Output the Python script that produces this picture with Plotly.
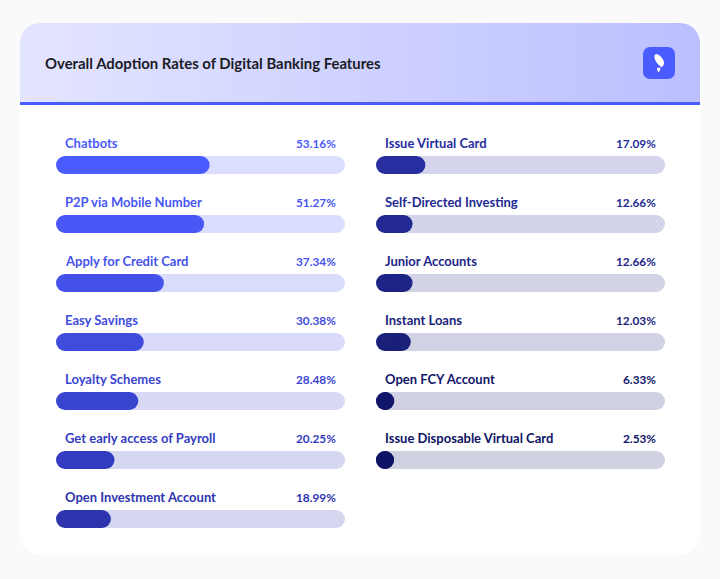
import base64
import numpy as np
import plotly.graph_objects as go

TITLE = "Overall Adoption Rates of Digital Banking Features"

left_features = ["Chatbots", "P2P via Mobile Number", "Apply for Credit Card", "Easy Savings",
                 "Loyalty Schemes", "Get early access of Payroll", "Open Investment Account"]
left_values = [53.16, 51.27, 37.34, 30.38, 28.48, 20.25, 18.99]
left_colors = ["#4A5CFF", "#4857F6", "#4552EA", "#3F4CDC", "#3A45CF", "#333CC0", "#2C34AE"]

right_features = ["Issue Virtual Card", "Self-Directed Investing", "Junior Accounts", "Instant Loans",
                  "Open FCY Account", "Issue Disposable Virtual Card"]
right_values = [17.09, 12.66, 12.66, 12.03, 6.33, 2.53]
right_colors = ["#262EA0", "#222992", "#1E2486", "#1A1F7A", "#11166A", "#0E1366"]

FONT = "Lato"
W, H = 720, 579
BAR_PX = 18
PANEL_PX = 289
CAP = (BAR_PX / 2) / PANEL_PX * 100  # round end radius, in axis units
FULL = 100


def tint(hex_color, alpha=0.2):
    h = hex_color.lstrip("#")
    rgb = [int(h[i:i + 2], 16) for i in (0, 2, 4)]
    return "rgb(" + ",".join(str(round(255 - alpha * (255 - c))) for c in rgb) + ")"


svg = f'''<svg xmlns="http://www.w3.org/2000/svg" width="{W}" height="{H}" viewBox="0 0 {W} {H}">
<defs><linearGradient id="g" x1="0" x2="1" y1="0" y2="0">
<stop offset="0" stop-color="#E3E5FF"/><stop offset="1" stop-color="#BBBFFF"/></linearGradient></defs>
<rect width="{W}" height="{H}" fill="#FAFAFA"/>
<rect x="20" y="23" width="680" height="532" rx="20" fill="#FFFFFF"/>
<path d="M20 103 V43 A20 20 0 0 1 40 23 H680 A20 20 0 0 1 700 43 V103 Z" fill="url(#g)"/>
<rect x="20" y="102" width="680" height="3" fill="#4A5CFF"/>
<rect x="643" y="47" width="32" height="32" rx="7" fill="#4A5CFF"/>
<path d="M656.5 54 C660 55 664 59 664 63 C664 65 663 66.5 661.5 67 C658 65 654 60 654.5 56 C654.6 55 655.5 54 656.5 54 Z" fill="#FFFFFF"/>
<path d="M657 68 L660.5 67.5 C660.3 69.5 659.5 71.5 658.5 72.5 C657.5 71.5 657 69.5 657 68 Z" fill="#FFFFFF"/>
</svg>'''
bg = "data:image/svg+xml;base64," + base64.b64encode(svg.encode()).decode()

fig = go.Figure()
annotations = []


def add_panel(features, values, colors, xa, ya):
    n = len(features)
    ends = np.maximum(values, 2 * CAP)
    tints = [tint(c) for c in colors]
    # track: straight part and its right end (its left end is hidden by the fill)
    fig.add_trace(go.Bar(orientation="h", y=features, x=[FULL - 2 * CAP] * n, base=CAP, xaxis=xa, yaxis=ya,
                         marker=dict(color=tints, line_width=0), hoverinfo="skip", showlegend=False))
    fig.add_trace(go.Scatter(y=features, x=[FULL - CAP] * n, mode="markers", xaxis=xa, yaxis=ya,
                             marker=dict(color=tints, size=BAR_PX, line_width=0),
                             hoverinfo="skip", showlegend=False))
    # fill: straight part and both round ends
    fig.add_trace(go.Bar(orientation="h", y=features, x=(ends - 2 * CAP).tolist(), base=CAP, xaxis=xa, yaxis=ya,
                         marker=dict(color=colors, line_width=0), hoverinfo="skip", showlegend=False))
    fig.add_trace(go.Scatter(y=features + features, x=[CAP] * n + (ends - CAP).tolist(), mode="markers",
                             xaxis=xa, yaxis=ya, marker=dict(color=colors + colors, size=BAR_PX, line_width=0),
                             hoverinfo="skip", showlegend=False))
    for f, v, c in zip(features, values, colors):
        common = dict(xref=xa, yref=ya, y=f, yshift=22, showarrow=False)
        annotations.append(dict(text=f, x=0, xanchor="left", xshift=7,
                                font=dict(family=FONT, size=13, color=c, weight=700), **common))
        annotations.append(dict(text=f"{v:.2f}%", x=FULL, xanchor="right", xshift=-7,
                                font=dict(family=FONT, size=11.8, color=c, weight=700), **common))


add_panel(left_features, left_values, left_colors, "x", "y")
add_panel(right_features, right_values, right_colors, "x2", "y2")

annotations.append(dict(text=TITLE, xref="paper", yref="paper", x=43 / W, y=1 - 63 / H,
                        xanchor="left", yanchor="middle", showarrow=False,
                        font=dict(family=FONT, size=14.9, color="#1B1B25", weight=700)))


def y_domain(top, bottom):
    return [1 - bottom / H, 1 - top / H]


fig.update_layout(
    width=W, height=H, margin=dict(l=0, r=0, t=0, b=0, pad=0),
    paper_bgcolor="#FAFAFA", plot_bgcolor="rgba(0,0,0,0)",
    barmode="overlay", bargap=1 - BAR_PX / 59,
    images=[dict(source=bg, xref="paper", yref="paper", x=0, y=1, sizex=1, sizey=1,
                 sizing="stretch", xanchor="left", yanchor="top", layer="below")],
    annotations=annotations,
    xaxis=dict(domain=[56 / W, 345 / W], range=[0, FULL], visible=False, fixedrange=True),
    xaxis2=dict(domain=[376 / W, 665 / W], range=[0, FULL], visible=False, fixedrange=True, anchor="y2"),
    yaxis=dict(domain=y_domain(135.5, 135.5 + 59 * 7), range=[6.5, -0.5], visible=False, fixedrange=True,
               categoryorder="array", categoryarray=left_features),
    yaxis2=dict(domain=y_domain(135.5, 135.5 + 59 * 6), range=[5.5, -0.5], visible=False, fixedrange=True,
                anchor="x2", categoryorder="array", categoryarray=right_features),
)

fig.write_html("out.html", config=dict(displayModeBar=False),
               post_script="document.body.style.margin='0';document.documentElement.style.overflow='hidden';")
